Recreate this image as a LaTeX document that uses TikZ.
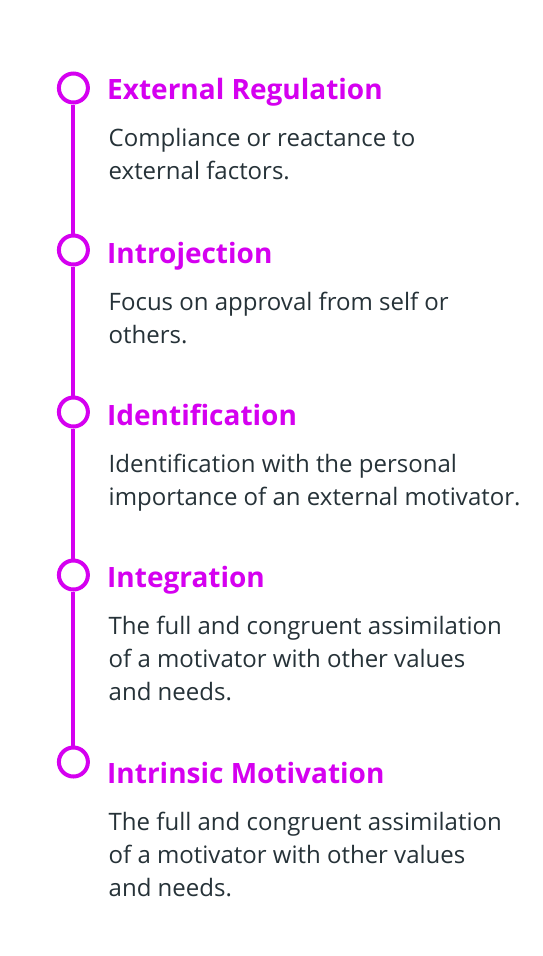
\documentclass[tikz,border=0pt]{standalone}
\usepackage{fontspec}
\setmainfont{Open Sans}
\definecolor{accent}{HTML}{D500F0}
\definecolor{bodytext}{HTML}{263238}
\begin{document}
\begin{tikzpicture}[x=1pt,y=1pt,
  dot/.style={circle,draw=accent,line width=4pt,minimum size=29pt,inner sep=0pt,fill=white},
  stage/.style={anchor=base west,inner sep=0pt,text=accent,font=\fontsize{28}{34}\selectfont\bfseries},
  desc/.style={anchor=north west,inner sep=0pt,text=bodytext,align=left,font=\fontsize{24}{33}\selectfont}]
\useasboundingbox (0,0) rectangle (542,-956);
\fill[white] (0,0) rectangle (542,-956);
% timeline markers
\node[dot] (c1) at (73.4,-88) {};
\node[dot] (c2) at (73.4,-250) {};
\node[dot] (c3) at (73.4,-412) {};
\node[dot] (c4) at (73.4,-575) {};
\node[dot] (c5) at (73.4,-762) {};
\foreach \a/\b in {c1/c2,c2/c3,c3/c4,c4/c5}
  \draw[accent,line width=4pt] (\a.south) -- (\b.north);
% stage titles
\node[stage] (t1) at (107,-99) {External Regulation};
\node[stage] (t2) at (107,-263) {Introjection};
\node[stage] (t3) at (107,-425) {Identification};
\node[stage] (t4) at (107,-587) {Integration};
\node[stage] (t5) at (107,-783) {Intrinsic Motivation};
% descriptions (the strut fixes the top at baseline + 0.7 x 33pt)
\node[desc] (d1) at (108.5,-146+23.1) {\strut Compliance or reactance to\\external factors.};
\node[desc] (d2) at (108.5,-310+23.1) {\strut Focus on approval from self or\\others.};
\node[desc] (d3) at (108.5,-472+23.1) {\strut Identification with the personal\\importance of an external motivator.};
\node[desc] (d4) at (108.5,-634+23.1) {\strut The full and congruent assimilation\\of a motivator with other values\\and needs.};
\node[desc] (d5) at (108.5,-830+23.1) {\strut The full and congruent assimilation\\of a motivator with other values\\and needs.};
\end{tikzpicture}
\end{document}
